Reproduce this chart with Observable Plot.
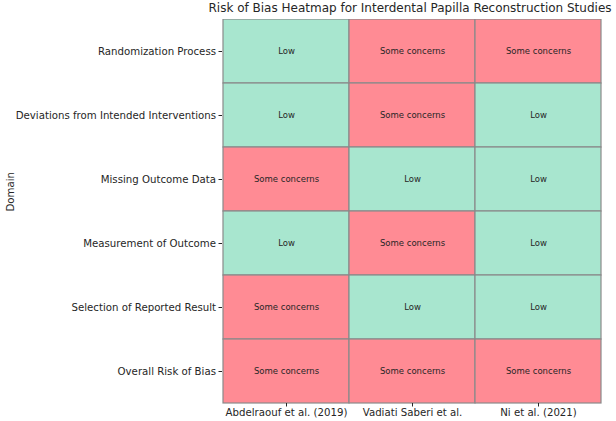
<!DOCTYPE html>
<html>
<head>
<meta charset="utf-8">
<script src="https://cdn.jsdelivr.net/npm/d3@7"></script>
<script src="https://cdn.jsdelivr.net/npm/@observablehq/plot@0.6"></script>
<style>
  html, body { margin: 0; padding: 0; background: #fff; }
  body { width: 616px; height: 421px; overflow: hidden; font-family: "DejaVu Sans", sans-serif; position: relative; }
  #title { position: relative; height: 19px; }
  #title span { position: absolute; left: 410px; top: 1px; transform: translateX(-50%);
                font-size: 12px; line-height: 15px; color: #262626; white-space: nowrap; }
  #chart svg { display: block; }
</style>
</head>
<body>
<div id="title"><span>Risk of Bias Heatmap for Interdental Papilla Reconstruction Studies</span></div>
<div id="chart"></div>
<script>
// Studies (columns) and risk-of-bias domains (rows)
const studies = ["Abdelraouf et al. (2019)", "Vadiati Saberi et al.", "Ni et al. (2021)"];
const domains = [
  "Randomization Process",
  "Deviations from Intended Interventions",
  "Missing Outcome Data",
  "Measurement of Outcome",
  "Selection of Reported Result",
  "Overall Risk of Bias"
];
// Judgements per domain, one entry per study
const abdelraouf = ["Low", "Low", "Some concerns", "Low", "Some concerns", "Some concerns"];
const vadiati    = ["Some concerns", "Some concerns", "Low", "Some concerns", "Low", "Some concerns"];
const ni         = ["Some concerns", "Low", "Low", "Low", "Low", "Some concerns"];
const judgements = ["Low", "Some concerns"];
const judgementColors = ["#a8e6cf", "#ff8b94"];

const series = [abdelraouf, vadiati, ni];
const table = [];
studies.forEach((s, i) => {
  domains.forEach((d, j) => table.push({study: s, domain: d, judgement: series[i][j]}));
});

const chart = Plot.plot({
  width: 616,
  height: 402,
  marginTop: 0,
  marginBottom: 18,
  marginLeft: 222,
  marginRight: 15,
  style: {fontFamily: "DejaVu Sans, sans-serif", fontSize: "10.2px", color: "#262626"},
  x: {domain: studies, padding: 0, label: null},
  y: {domain: domains, padding: 0, label: null},
  color: {domain: judgements, range: judgementColors},
  marks: [
    Plot.cell(table, {x: "study", y: "domain", fill: "judgement", stroke: "#8a8a8a", strokeWidth: 1.2}),
    Plot.text(table, {x: "study", y: "domain", text: "judgement", fill: "#262626", fontSize: 8.5}),
    Plot.axisX({tickSize: 3.5, tickPadding: 2, fontSize: 10.2, label: null}),
    Plot.axisY({tickSize: 3.5, tickPadding: 3, fontSize: 10.2, label: null}),
    Plot.text(["Domain"], {frameAnchor: "left", dx: -212, rotate: -90, fontSize: 10.2, fill: "#262626"})
  ]
});
document.getElementById("chart").appendChild(chart);
</script>
</body>
</html>
